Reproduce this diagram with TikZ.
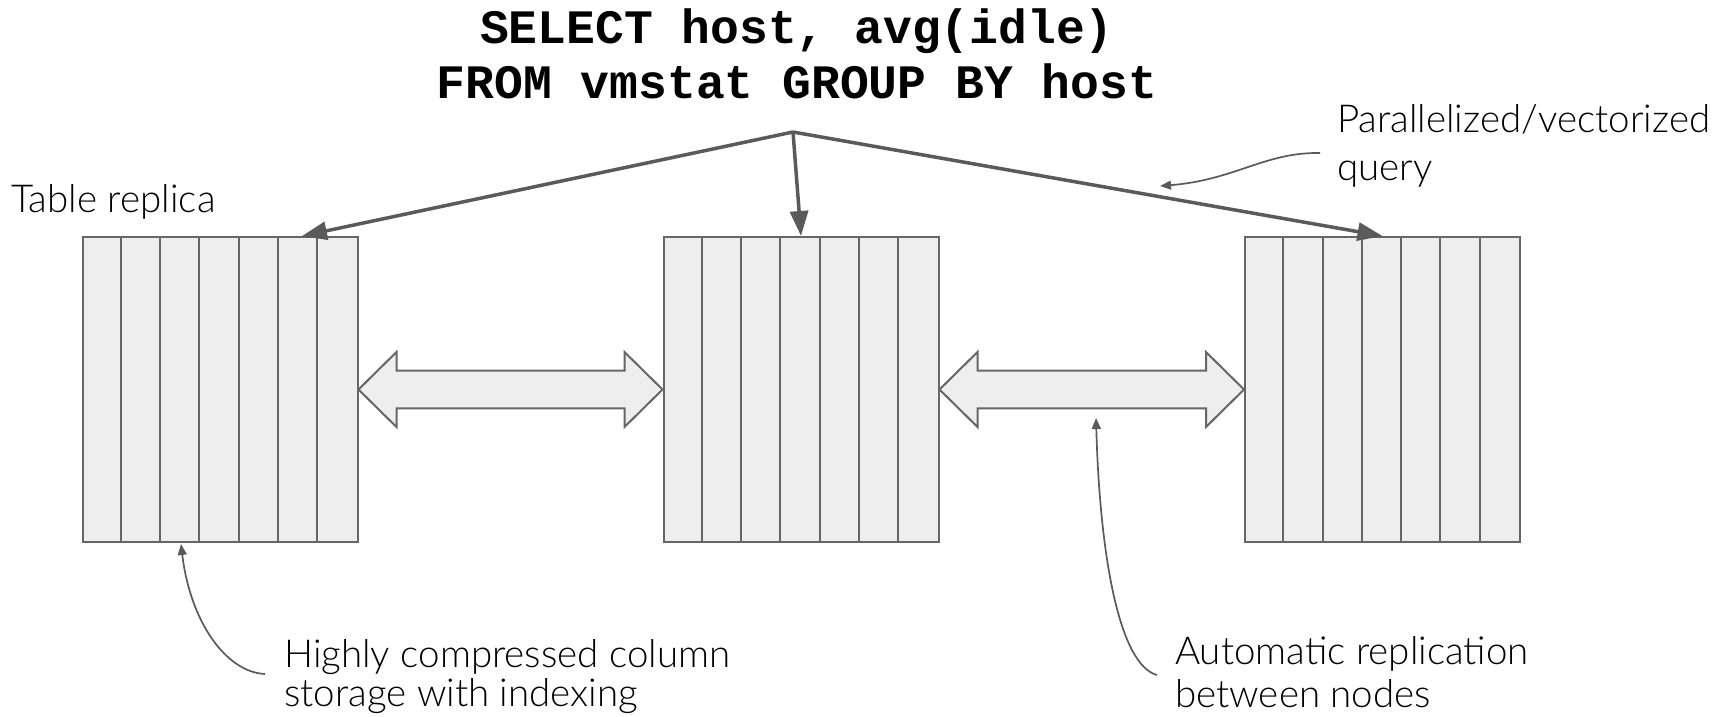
\documentclass[tikz,border=0pt]{standalone}
\usepackage{fontspec}
\setmainfont{Lato Light}
\newfontfamily\codefont{Liberation Mono}
\usetikzlibrary{arrows.meta,calc}

\definecolor{cellfill}{HTML}{EEEEEE}
\definecolor{cellline}{HTML}{666666}
\definecolor{arrowgray}{HTML}{5A5A5A}

\tikzset{
  tablebox/.style={draw=cellline, fill=cellfill, line width=2pt,
    minimum width=275pt, minimum height=305pt, inner sep=0pt},
  querytext/.style={font=\codefont\bfseries\fontsize{48}{56}\selectfont,
    inner sep=0pt, anchor=base},
  labeltext/.style={font=\fontsize{38.5}{44}\selectfont, inner sep=0pt,
    anchor=base west},
  queryarrow/.style={draw=arrowgray, line width=3.5pt,
    -{Triangle[length=25pt,width=18pt]}},
  callout/.style={draw=arrowgray, line width=1.7pt,
    -{Triangle[length=11pt,width=9pt]}},
  blockarrow/.style={draw=cellline, fill=cellfill, line width=2pt,
    line join=miter},
}

\begin{document}
\begin{tikzpicture}[x=1pt, y=-1pt]
  \useasboundingbox (0,0) rectangle (1717,716);

  % SQL query
  \node[querytext] (sql1) at (797,43) {SELECT host, avg(idle)};
  \node[querytext] (sql2) at (797,98.5) {FROM vmstat GROUP BY host};
  \coordinate (fork) at (793,132);

  % three table replicas, seven columns each
  \foreach \name/\cx in {t1/220, t2/801, t3/1382.5} {
    \node[tablebox] (\name) at (\cx,389.5) {};
    \foreach \k in {1,...,6}
      \draw[cellline, line width=2pt]
        ($(\name.north west)+(\k*275/7,0)$) -- ($(\name.south west)+(\k*275/7,0)$);
  }

  % replication block arrows between neighbouring tables
  \foreach \a/\b in {t1/t2, t2/t3} {
    \draw[blockarrow]
      (\a.east) -- ++(38,-37.5) -- ++(0,18.7)
      -- ($(\b.west)+(-38,-18.8)$) -- ++(0,-18.7) -- (\b.west)
      -- ++(-38,37.5) -- ++(0,-18.7)
      -- ($(\a.east)+(38,18.8)$) -- ++(0,18.7) -- cycle;
  }

  % query fan-out
  \coordinate (hit1) at ($(t1.north)+(82,0)$);
  \draw[queryarrow] (fork) -- (hit1);
  \draw[queryarrow] (fork) -- (t2.north);
  \draw[queryarrow] (fork) -- (t3.north);

  % labels
  \node[labeltext] (lblTable) at (11,212.5) {Table replica};

  \node[labeltext] (lblPar1) at (1337,132) {Parallelized/vectorized};
  \node[labeltext] (lblPar2) at (1337,180) {query};

  \node[labeltext] (lblCol1) at (284,667) {Highly compressed column};
  \node[labeltext] (lblCol2) at (284,706) {storage with indexing};

  \node[labeltext] (lblRep1) at (1175,664) {Automatic replication};
  \node[labeltext] (lblRep2) at (1175,707) {between nodes};

  % callout curves
  \coordinate (parStart) at (1320,153);
  \coordinate (parEnd) at (1160,186);
  \draw[callout] (parStart) .. controls (1265,152) and (1235,180) .. (parEnd);

  \coordinate (colStart) at (265,674);
  \coordinate (colEnd) at (181,544);
  \draw[callout] (colStart) .. controls (225,672) and (190,620) .. (colEnd);

  \coordinate (repStart) at (1157,675);
  \coordinate (repEnd) at (1096,418);
  \draw[callout] (repStart) .. controls (1120,665) and (1100,560) .. (repEnd);
\end{tikzpicture}
\end{document}
